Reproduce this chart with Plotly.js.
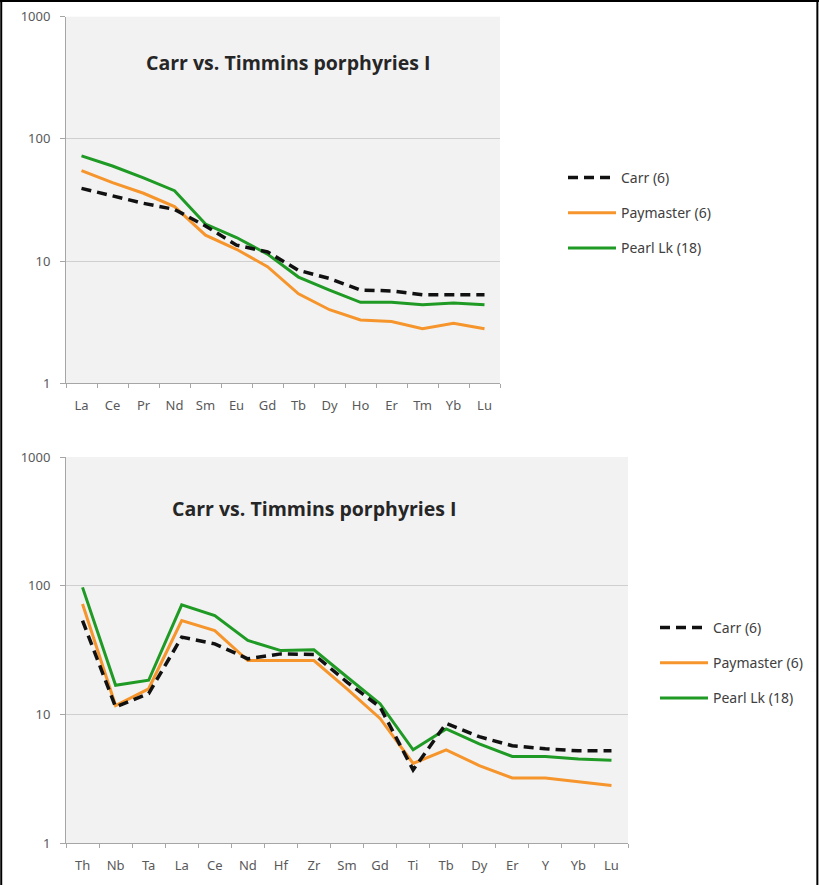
<!DOCTYPE html>
<html>
<head>
<meta charset="utf-8">
<script src="https://cdn.plot.ly/plotly-3.0.1.min.js"></script>
<style>html,body{margin:0;padding:0;background:#fff;}#chart{width:819px;height:885px;}</style>
</head>
<body>
<div id="chart"></div>
<script>
// ---- data ----
const reeLabels = ["La","Ce","Pr","Nd","Sm","Eu","Gd","Tb","Dy","Ho","Er","Tm","Yb","Lu"];
const reeCarr = [39.4, 34, 29.7, 26.5, 19.4, 13.5, 11.9, 8.4, 7.2, 5.8, 5.7, 5.3, 5.3, 5.3];
const reePaymaster = [55, 43.8, 35.9, 27.9, 16.3, 12.5, 9.0, 5.4, 4.0, 3.3, 3.2, 2.8, 3.1, 2.8];
const reePearl = [72.6, 60, 48, 37.7, 20.1, 15.6, 11.4, 7.4, 5.8, 4.6, 4.6, 4.4, 4.55, 4.4];

const spiderLabels = ["Th","Nb","Ta","La","Ce","Nd","Hf","Zr","Sm","Gd","Ti","Tb","Dy","Er","Y","Yb","Lu"];
const spiderCarr = [53.5, 11.4, 14.5, 39.8, 35.3, 27, 29.5, 29.2, 17.8, 11.4, 3.7, 8.5, 6.7, 5.7, 5.4, 5.2, 5.2];
const spiderPaymaster = [72, 11.7, 15.8, 53.5, 44.8, 26.2, 26.2, 26.2, 15.8, 9.3, 4.15, 5.3, 4.0, 3.2, 3.2, 3.0, 2.8];
const spiderPearl = [97, 16.8, 18.4, 71, 58.5, 37.5, 31.3, 31.7, 19.5, 12.1, 5.3, 7.7, 5.9, 4.7, 4.7, 4.5, 4.4];

const seriesNames = ["Carr (6)", "Paymaster (6)", "Pearl Lk (18)"];
const chartTitle = "Carr vs. Timmins porphyries I";
const yTicks = [1, 10, 100, 1000];

// ---- styles ----
const W = 819, H = 885;
const colCarr = "#111111", colPay = "#F5952C", colPearl = "#1F9A24";
const tickFont = {family: "Noto Sans, Open Sans, sans-serif", size: 13, color: "#595959"};

function mk(x, y, name, color, dash, xa, ya, leg, rank, grp) {
  return {
    type: "scatter", mode: "lines", x: x, y: y, name: name,
    xaxis: xa, yaxis: ya, legend: leg, legendrank: rank, legendgroup: grp,
    line: {color: color, width: dash ? 3.5 : 3, dash: dash || "solid"}
  };
}
const dashPat = "10px,6px";
const traces = [
  mk(reeLabels, reePearl, seriesNames[2], colPearl, null, "x", "y", "legend", 3, "a3"),
  mk(reeLabels, reePaymaster, seriesNames[1], colPay, null, "x", "y", "legend", 2, "a2"),
  mk(reeLabels, reeCarr, seriesNames[0], colCarr, dashPat, "x", "y", "legend", 1, "a1"),
  mk(spiderLabels, spiderPearl, seriesNames[2], colPearl, null, "x2", "y2", "legend2", 3, "b3"),
  mk(spiderLabels, spiderPaymaster, seriesNames[1], colPay, null, "x2", "y2", "legend2", 2, "b2"),
  mk(spiderLabels, spiderCarr, seriesNames[0], colCarr, dashPat, "x2", "y2", "legend2", 1, "b1")
];

function xax(domain, n, anchor) {
  return {
    domain: domain, anchor: anchor, type: "category", range: [-0.5, n - 0.5],
    showgrid: false, zeroline: false, showline: true, linecolor: "#a6a6a6", linewidth: 1,
    ticks: "outside", tickson: "boundaries", ticklen: 4, tickcolor: "#a6a6a6",
    tickfont: tickFont, ticklabelstandoff: 10, fixedrange: true
  };
}
function yax(domain, anchor) {
  return {
    domain: domain, anchor: anchor, type: "log", range: [0, 3],
    tickvals: yTicks, ticktext: yTicks.map(String),
    showgrid: true, gridcolor: "#cfcfcf", gridwidth: 1,
    showline: true, linecolor: "#a6a6a6", linewidth: 1,
    ticks: "outside", ticklen: 5, tickcolor: "#a6a6a6",
    tickfont: tickFont, ticklabelstandoff: 7, zeroline: false, fixedrange: true
  };
}
function legendCfg(xpx, ypx) {
  return {
    x: xpx / W, y: 1 - ypx / H, xanchor: "left", yanchor: "top",
    bgcolor: "rgba(0,0,0,0)", borderwidth: 0,
    font: {family: "Noto Sans, Open Sans, sans-serif", size: 14, color: "#404040"},
    traceorder: "grouped", tracegroupgap: 14, itemwidth: 48
  };
}

const titleFont = {family: "Open Sans, Noto Sans, sans-serif", size: 19.5, color: "#262626", weight: "bold"};

const layout = {
  width: W, height: H,
  margin: {l: 0, r: 0, t: 0, b: 0},
  paper_bgcolor: "#ffffff",
  plot_bgcolor: "#f2f2f2",
  showlegend: true,
  xaxis: xax([66 / W, 500 / W], reeLabels.length, "y"),
  yaxis: yax([1 - 383.3 / H, 1 - 16.7 / H], "x"),
  xaxis2: xax([66 / W, 628 / W], spiderLabels.length, "y2"),
  yaxis2: yax([1 - 843 / H, 1 - 457 / H], "x2"),
  legend: legendCfg(563, 162),
  legend2: legendCfg(655, 612),
  annotations: [
    {text: "<b>" + chartTitle + "</b>", xref: "paper", yref: "paper", x: 288 / W, y: 1 - 63 / H,
     xanchor: "center", yanchor: "middle", showarrow: false, font: titleFont},
    {text: "<b>" + chartTitle + "</b>", xref: "paper", yref: "paper", x: 314 / W, y: 1 - 508 / H,
     xanchor: "center", yanchor: "middle", showarrow: false, font: titleFont}
  ],
  shapes: [
    {type: "line", xref: "paper", yref: "paper", x0: 0.0015, x1: 0.0015, y0: 0, y1: 1, line: {color: "#000", width: 2}},
    {type: "line", xref: "paper", yref: "paper", x0: 0, x1: 1, y0: 0.999, y1: 0.999, line: {color: "#000", width: 2}},
    {type: "line", xref: "paper", yref: "paper", x0: 0.998, x1: 0.998, y0: 0, y1: 1, line: {color: "#000", width: 2}}
  ]
};

Plotly.newPlot("chart", traces, layout, {displayModeBar: false, staticPlot: true});
</script>
</body>
</html>
